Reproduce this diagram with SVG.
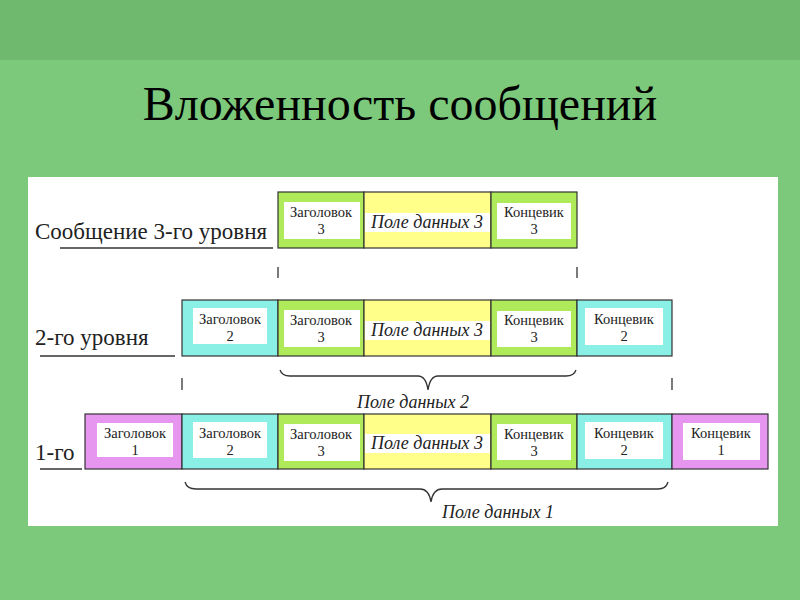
<svg xmlns="http://www.w3.org/2000/svg" width="800" height="600" viewBox="0 0 800 600">
<rect width="800" height="600" fill="#7cc97c"/>
<rect width="800" height="60" fill="#6fb96f"/>
<text x="400" y="120" font-family="Liberation Serif" font-size="48" text-anchor="middle" fill="#000">Вложенность сообщений</text>
<rect x="28" y="177" width="750" height="349" fill="#fff"/>

<g id="labels">
<text x="35" y="239" font-family="Liberation Serif" font-size="23" fill="#222">Сообщение 3-го уровня</text>
<text x="35" y="345" font-family="Liberation Serif" font-size="23" fill="#222">2-го уровня</text>
<text x="35" y="460" font-family="Liberation Serif" font-size="23" fill="#222">1-го</text>
<g stroke="#333" stroke-width="1.3">
<line x1="60" y1="248" x2="273" y2="248"/>
<line x1="40" y1="356" x2="175" y2="356"/>
<line x1="40" y1="469" x2="82" y2="469"/>
</g>
</g>

<g id="row3">
<g stroke="#333" stroke-width="1.2">
<rect fill="#aeea5a" x="278" y="192" width="86" height="56"/>
<rect fill="#ffff8a" x="364" y="192" width="127" height="56"/>
<rect fill="#aeea5a" x="491" y="192" width="86" height="56"/>
</g>
<g fill="#fff">
<rect x="284" y="202" width="76" height="37"/>
<rect x="365" y="213" width="125" height="19"/>
<rect x="497" y="203" width="74" height="36"/>
</g>
<text x="321" y="217" font-family="Liberation Serif" font-size="14.5" text-anchor="middle" fill="#222">Заголовок</text>
<text x="321" y="234" font-family="Liberation Serif" font-size="14.5" text-anchor="middle" fill="#222">3</text>
<text x="534" y="217" font-family="Liberation Serif" font-size="14.5" text-anchor="middle" fill="#222">Концевик</text>
<text x="534" y="234" font-family="Liberation Serif" font-size="14.5" text-anchor="middle" fill="#222">3</text>
<text x="427" y="228" font-family="Liberation Serif" font-size="18" font-style="italic" text-anchor="middle" fill="#222">Поле данных 3</text>
</g>

<g id="row2">
<g stroke="#333" stroke-width="1.2">
<rect fill="#8af0e6" x="182" y="300" width="96" height="56"/>
<rect fill="#aeea5a" x="278" y="300" width="86" height="56"/>
<rect fill="#ffff8a" x="364" y="300" width="127" height="56"/>
<rect fill="#aeea5a" x="491" y="300" width="86" height="56"/>
<rect fill="#8af0e6" x="577" y="300" width="95" height="56"/>
</g>
<g fill="#fff">
<rect x="193" y="308" width="74" height="36"/>
<rect x="284" y="310" width="76" height="37"/>
<rect x="365" y="321" width="125" height="19"/>
<rect x="497" y="311" width="74" height="36"/>
<rect x="585" y="308" width="78" height="37"/>
</g>
<text x="230" y="324" font-family="Liberation Serif" font-size="14.5" text-anchor="middle" fill="#222">Заголовок</text>
<text x="230" y="341" font-family="Liberation Serif" font-size="14.5" text-anchor="middle" fill="#222">2</text>
<text x="321" y="325" font-family="Liberation Serif" font-size="14.5" text-anchor="middle" fill="#222">Заголовок</text>
<text x="321" y="342" font-family="Liberation Serif" font-size="14.5" text-anchor="middle" fill="#222">3</text>
<text x="534" y="325" font-family="Liberation Serif" font-size="14.5" text-anchor="middle" fill="#222">Концевик</text>
<text x="534" y="342" font-family="Liberation Serif" font-size="14.5" text-anchor="middle" fill="#222">3</text>
<text x="624" y="324" font-family="Liberation Serif" font-size="14.5" text-anchor="middle" fill="#222">Концевик</text>
<text x="624" y="341" font-family="Liberation Serif" font-size="14.5" text-anchor="middle" fill="#222">2</text>
<text x="427" y="336" font-family="Liberation Serif" font-size="18" font-style="italic" text-anchor="middle" fill="#222">Поле данных 3</text>
</g>

<g id="row1">
<g stroke="#333" stroke-width="1.2">
<rect fill="#e796ef" x="85" y="414" width="97" height="55"/>
<rect fill="#8af0e6" x="182" y="414" width="96" height="55"/>
<rect fill="#aeea5a" x="278" y="414" width="86" height="55"/>
<rect fill="#ffff8a" x="364" y="414" width="127" height="55"/>
<rect fill="#aeea5a" x="491" y="414" width="86" height="55"/>
<rect fill="#8af0e6" x="577" y="414" width="95" height="55"/>
<rect fill="#e796ef" x="672" y="414" width="96" height="55"/>
</g>
<g fill="#fff">
<rect x="97" y="423" width="76" height="34"/>
<rect x="193" y="422" width="74" height="36"/>
<rect x="284" y="424" width="76" height="37"/>
<rect x="365" y="434" width="125" height="19"/>
<rect x="497" y="424" width="74" height="36"/>
<rect x="585" y="422" width="78" height="37"/>
<rect x="683" y="423" width="77" height="37"/>
</g>
<text x="135" y="438" font-family="Liberation Serif" font-size="14.5" text-anchor="middle" fill="#222">Заголовок</text>
<text x="135" y="455" font-family="Liberation Serif" font-size="14.5" text-anchor="middle" fill="#222">1</text>
<text x="230" y="438" font-family="Liberation Serif" font-size="14.5" text-anchor="middle" fill="#222">Заголовок</text>
<text x="230" y="455" font-family="Liberation Serif" font-size="14.5" text-anchor="middle" fill="#222">2</text>
<text x="321" y="439" font-family="Liberation Serif" font-size="14.5" text-anchor="middle" fill="#222">Заголовок</text>
<text x="321" y="456" font-family="Liberation Serif" font-size="14.5" text-anchor="middle" fill="#222">3</text>
<text x="534" y="439" font-family="Liberation Serif" font-size="14.5" text-anchor="middle" fill="#222">Концевик</text>
<text x="534" y="456" font-family="Liberation Serif" font-size="14.5" text-anchor="middle" fill="#222">3</text>
<text x="624" y="438" font-family="Liberation Serif" font-size="14.5" text-anchor="middle" fill="#222">Концевик</text>
<text x="624" y="455" font-family="Liberation Serif" font-size="14.5" text-anchor="middle" fill="#222">2</text>
<text x="721" y="438" font-family="Liberation Serif" font-size="14.5" text-anchor="middle" fill="#222">Концевик</text>
<text x="721" y="455" font-family="Liberation Serif" font-size="14.5" text-anchor="middle" fill="#222">1</text>
<text x="427" y="449" font-family="Liberation Serif" font-size="18" font-style="italic" text-anchor="middle" fill="#222">Поле данных 3</text>
</g>

<g id="connectors">
<g stroke="#333" stroke-width="1.3" fill="none">
<line x1="278" y1="267" x2="278" y2="278"/>
<line x1="577" y1="267" x2="577" y2="278"/>
<line x1="182" y1="378" x2="182" y2="390"/>
<line x1="672" y1="378" x2="672" y2="390"/>
<path d="M280 370 Q282 376 290 376 L418 376 Q426 376 428 390 Q430 376 438 376 L566 376 Q574 376 576 370"/>
<path d="M185 482 Q187 489 196 489 L420 489 Q429 489 431 502 Q433 489 442 489 L658 489 Q666 489 668 482"/>
</g>
<text x="413" y="408" font-family="Liberation Serif" font-size="18" font-style="italic" text-anchor="middle" fill="#222">Поле данных 2</text>
<text x="498" y="518" font-family="Liberation Serif" font-size="18" font-style="italic" text-anchor="middle" fill="#222">Поле данных 1</text>
</g>
</svg>
